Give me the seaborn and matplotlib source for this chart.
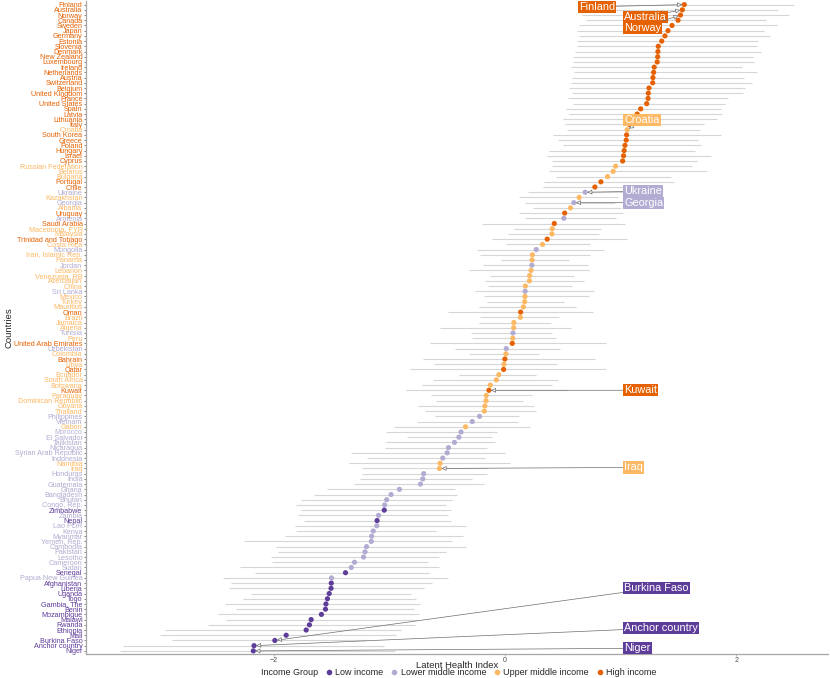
import numpy as np
import pandas as pd
import matplotlib
matplotlib.use("Agg")
import matplotlib.pyplot as plt
import seaborn as sns
from matplotlib.lines import Line2D

# Countries ordered top to bottom, with income group and latent index (estimate + interval)
countries = [
    "Finland", "Australia", "Norway", "Canada", "Sweden", "Japan", "Germany", "Estonia", "Slovenia", "Denmark",
    "New Zealand", "Luxembourg", "Ireland", "Netherlands", "Austria", "Switzerland", "Belgium", "United Kingdom", "France", "United States",
    "Spain", "Latvia", "Lithuania", "Italy", "Croatia", "South Korea", "Greece", "Poland", "Hungary", "Israel",
    "Cyprus", "Russian Federation", "Belarus", "Bulgaria", "Portugal", "Chile", "Ukraine", "Kazakhstan", "Georgia", "Albania",
    "Uruguay", "Armenia", "Saudi Arabia", "Macedonia, FYR", "Malaysia", "Trinidad and Tobago", "Costa Rica", "Mongolia", "Iran, Islamic Rep.", "Panama",
    "Jordan", "Lebanon", "Venezuela, RB", "Azerbaijan", "China", "Sri Lanka", "Mexico", "Turkey", "Mauritius", "Oman",
    "Brazil", "Jamaica", "Algeria", "Tunisia", "Peru", "United Arab Emirates", "Uzbekistan", "Colombia", "Bahrain", "Libya",
    "Qatar", "Ecuador", "South Africa", "Botswana", "Kuwait", "Paraguay", "Dominican Republic", "Guyana", "Thailand", "Philippines",
    "Vietnam", "Gabon", "Morocco", "El Salvador", "Tajikistan", "Nicaragua", "Syrian Arab Republic", "Indonesia", "Namibia", "Iraq",
    "Honduras", "India", "Guatemala", "Ghana", "Bangladesh", "Bhutan", "Congo, Rep.", "Zimbabwe", "Zambia", "Nepal",
    "Lao PDR", "Kenya", "Myanmar", "Yemen, Rep.", "Cambodia", "Pakistan", "Lesotho", "Cameroon", "Sudan", "Senegal",
    "Papua New Guinea", "Afghanistan", "Liberia", "Uganda", "Togo", "Gambia, The", "Benin", "Mozambique", "Malawi", "Rwanda",
    "Ethiopia", "Mali", "Burkina Faso", "Anchor country", "Niger",
]

income = [
    "H", "H", "H", "H", "H", "H", "H", "H", "H", "H",
    "H", "H", "H", "H", "H", "H", "H", "H", "H", "H",
    "H", "H", "H", "H", "UM", "H", "H", "H", "H", "H",
    "H", "UM", "UM", "UM", "H", "H", "LM", "UM", "LM", "UM",
    "H", "LM", "H", "UM", "UM", "H", "UM", "LM", "UM", "UM",
    "LM", "UM", "UM", "UM", "UM", "LM", "UM", "UM", "UM", "H",
    "UM", "UM", "UM", "LM", "UM", "H", "LM", "UM", "H", "UM",
    "H", "UM", "UM", "UM", "H", "UM", "UM", "UM", "UM", "LM",
    "LM", "UM", "LM", "LM", "LM", "LM", "LM", "LM", "UM", "UM",
    "LM", "LM", "LM", "LM", "LM", "LM", "LM", "L", "LM", "L",
    "LM", "LM", "LM", "LM", "LM", "LM", "LM", "LM", "LM", "L",
    "LM", "L", "L", "L", "L", "L", "L", "L", "L", "L",
    "L", "L", "L", "L", "L",
]

estimate = [
    1.549, 1.532, 1.516, 1.495, 1.443, 1.408, 1.382, 1.354, 1.324, 1.321,
    1.319, 1.315, 1.289, 1.284, 1.278, 1.276, 1.244, 1.238, 1.236, 1.224,
    1.172, 1.142, 1.105, 1.075, 1.055, 1.050, 1.047, 1.036, 1.029, 1.024,
    1.016, 0.955, 0.934, 0.886, 0.828, 0.776, 0.692, 0.640, 0.594, 0.565,
    0.515, 0.508, 0.425, 0.407, 0.405, 0.364, 0.323, 0.269, 0.236, 0.233,
    0.231, 0.224, 0.212, 0.210, 0.175, 0.173, 0.172, 0.169, 0.158, 0.134,
    0.132, 0.076, 0.074, 0.068, 0.066, 0.062, 0.010, 0.007, -0.002, -0.010,
    -0.013, -0.054, -0.076, -0.128, -0.140, -0.163, -0.165, -0.175, -0.180, -0.221,
    -0.284, -0.342, -0.381, -0.400, -0.438, -0.490, -0.501, -0.539, -0.562, -0.568,
    -0.704, -0.712, -0.732, -0.914, -0.986, -1.024, -1.042, -1.045, -1.094, -1.107,
    -1.110, -1.140, -1.154, -1.157, -1.198, -1.211, -1.224, -1.302, -1.330, -1.380,
    -1.501, -1.503, -1.505, -1.521, -1.536, -1.549, -1.553, -1.588, -1.677, -1.692,
    -1.720, -1.893, -1.991, -2.171, -2.177,
]

lower = [
    0.689, 0.706, 0.663, 0.698, 0.637, 0.620, 0.637, 0.620, 0.620, 0.602,
    0.585, 0.585, 0.568, 0.594, 0.576, 0.568, 0.550, 0.576, 0.542, 0.585,
    0.524, 0.550, 0.498, 0.516, 0.533, 0.412, 0.455, 0.498, 0.377, 0.360,
    0.403, 0.403, 0.377, 0.438, 0.334, 0.325, 0.195, 0.117, 0.169, 0.238,
    0.117, 0.169, -0.204, 0.074, 0.022, -0.117, 0.004, -0.247, -0.221, -0.039,
    -0.195, -0.308, -0.134, -0.178, -0.152, -0.264, -0.186, -0.160, -0.230, -0.490,
    -0.221, -0.230, -0.559, -0.299, -0.290, -0.646, -0.429, -0.308, -0.706, -0.611,
    -0.819, -0.403, -0.620, -0.715, -0.854, -0.637, -0.594, -0.750, -0.689, -0.602,
    -0.758, -0.958, -1.027, -0.845, -1.027, -1.036, -1.330, -1.192, -1.348, -1.235,
    -1.235, -1.252, -1.304, -1.538, -1.651, -1.763, -1.807, -1.763, -1.789, -1.737,
    -1.815, -1.807, -1.902, -2.257, -1.980, -1.963, -2.023, -2.015, -2.292, -2.162,
    -2.439, -2.370, -2.387, -2.197, -2.266, -2.422, -2.327, -2.483, -2.413, -2.569,
    -2.942, -2.985, -2.881, -3.300, -3.332,
]

upper = [
    2.500, 2.361, 2.457, 2.257, 2.353, 2.240, 2.292, 2.188, 2.179, 2.214,
    2.145, 2.153, 2.049, 2.179, 2.067, 2.136, 2.075, 2.058, 1.928, 1.902,
    1.867, 1.876, 1.833, 1.720, 1.685, 1.867, 1.668, 1.694, 1.642, 1.781,
    1.659, 1.616, 1.746, 1.434, 1.460, 1.269, 1.250, 0.975, 0.949, 1.001,
    1.018, 0.958, 1.036, 0.828, 0.810, 1.053, 0.732, 0.854, 0.732, 0.550,
    0.715, 0.724, 0.594, 0.680, 0.576, 0.767, 0.724, 0.507, 0.611, 0.758,
    0.464, 0.394, 0.568, 0.403, 0.438, 0.871, 0.472, 0.290, 0.776, 0.446,
    0.871, 0.264, 0.455, 0.403, 0.533, 0.230, 0.152, 0.247, 0.264, 0.117,
    0.108, 0.212, -0.074, -0.117, -0.091, -0.160, -0.004, -0.178, 0.039, -0.160,
    -0.160, -0.290, -0.186, -0.429, -0.412, -0.455, -0.507, -0.464, -0.498, -0.472,
    -0.342, -0.594, -0.368, -0.455, -0.334, -0.507, -0.568, -0.663, -0.568, -0.654,
    -0.498, -0.628, -0.698, -0.810, -0.767, -0.732, -0.784, -0.741, -0.758, -0.776,
    -0.897, -0.940, -1.200, -1.050, -0.950,
]

group_names = {"L": "Low income", "LM": "Lower middle income",
               "UM": "Upper middle income", "H": "High income"}
group_order = ["Low income", "Lower middle income", "Upper middle income", "High income"]
palette = {"Low income": "#5e3c99", "Lower middle income": "#b2abd2",
           "Upper middle income": "#fdb863", "High income": "#e66101"}

# labelled countries: (label x, row offset from the point, alignment)
label_layout = {
    "Finland": (0.952, 0.4, "right"),
    "Australia": (1.03, 1.3, "left"),
    "Norway": (1.03, 2.4, "left"),
    "Croatia": (1.03, -1.8, "left"),
    "Ukraine": (1.03, -0.2, "left"),
    "Georgia": (1.03, 0.0, "left"),
    "Kuwait": (1.03, 0.0, "left"),
    "Iraq": (1.03, -0.2, "left"),
    "Burkina Faso": (1.03, -10.1, "left"),
    "Anchor country": (1.03, -3.4, "left"),
    "Niger": (1.03, -0.5, "left"),
}

df = pd.DataFrame({
    "country": countries,
    "group": [group_names[g] for g in income],
    "estimate": estimate,
    "lower": lower,
    "upper": upper,
})
df["pos"] = np.arange(len(df))

sns.set_theme(style="white")
plt.rcParams["font.family"] = ["Liberation Sans", "DejaVu Sans"]

fig, ax = plt.subplots(figsize=(8.3, 6.78), dpi=100)
fig.subplots_adjust(left=0.1036, right=0.9976, top=0.9978, bottom=0.0354)

# interval lines
ax.hlines(df["pos"], df["lower"], df["upper"], color="#d6d6d6", lw=0.8, zorder=1)

sns.scatterplot(data=df, x="estimate", y="pos", hue="group", hue_order=group_order,
                palette=palette, s=14, linewidth=0, legend=False, ax=ax, zorder=3)

# highlighted country labels with arrows
for _, row in df[df["country"].isin(label_layout)].iterrows():
    lx, dy, ha = label_layout[row["country"]]
    ax.annotate(row["country"], xy=(row["estimate"], row["pos"]),
                xytext=(lx, row["pos"] + dy), ha=ha, va="center",
                fontsize=7.8, color="white",
                bbox=dict(boxstyle="square,pad=0.1", fc=palette[row["group"]], ec="none"),
                arrowprops=dict(arrowstyle="-|>", fc="white", ec="#6e6e6e", lw=0.5,
                                mutation_scale=7, shrinkA=0, shrinkB=1.5),
                zorder=5)

xmin, xmax = min(lower), max(upper)
pad = 0.05 * (xmax - xmin)
ax.set_xlim(xmin - pad, xmax + pad)
ax.set_ylim(len(df) - 0.4, -0.6)

ax.set_xticks([-2, 0, 2])
ax.set_xticklabels(["\u22122", "0", "2"])
ax.tick_params(axis="x", labelsize=5, labelcolor="#4d4d4d", color="#999999",
               length=1.5, width=0.5, pad=0.5, bottom=True)

ax.set_yticks(df["pos"])
ax.set_yticklabels(df["country"], fontsize=5.2)
for lbl, g in zip(ax.get_yticklabels(), df["group"]):
    lbl.set_color(palette[g])
ax.tick_params(axis="y", length=1.5, width=0.5, color="#555555", pad=1, left=True)

sns.despine(ax=ax)
for side in ["left", "bottom"]:
    ax.spines[side].set_color("#a6a6a6")
    ax.spines[side].set_linewidth(0.9)

ax.set_xlabel("Latent Health Index", fontsize=6.8)
ax.xaxis.set_label_coords(0.5, -0.0105)
ax.set_ylabel("Countries", fontsize=6.8)
ax.yaxis.set_label_coords(-0.098, 0.5)

handles = [Line2D([0], [0], marker="o", ls="", color=palette[g], markersize=3)
           for g in group_order]
fig.legend(handles, group_order, loc="center", bbox_to_anchor=(0.592, 0.0085),
           ncol=4, frameon=False, fontsize=6.5, handlelength=0.6, handletextpad=0.4,
           columnspacing=0.9, borderpad=0, borderaxespad=0)
fig.text(0.383, 0.0085, "Income Group", ha="right", va="center", fontsize=6.5)

fig.savefig("out.png", dpi=100)
